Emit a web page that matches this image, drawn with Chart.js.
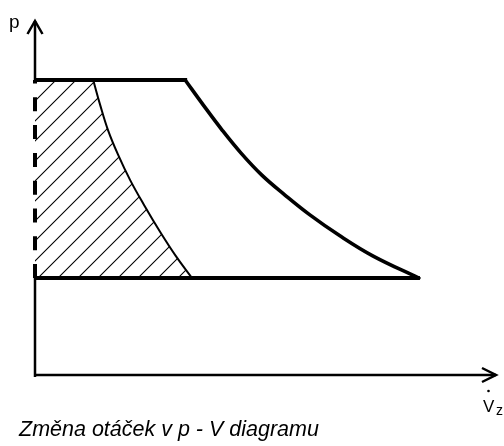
<!DOCTYPE html>
<html><head><meta charset="utf-8">
<script src="https://cdn.jsdelivr.net/npm/chart.js@4/dist/chart.umd.min.js"></script>
<style>html,body{margin:0;padding:0;background:#fff}#wrap{width:504px;height:446px;position:relative}</style>
</head><body><div id="wrap"><canvas id="c" width="504" height="446"></canvas></div>
<script>
// pressure levels (upper / lower) in arbitrary units
const pUpper = 83.1;
const pLower = 27.3;
// flow values on the horizontal lines
const upperLineV = [0, 32.5];
const lowerLineV = [0, 83.3];
// outer characteristic (full speed)
const outerV = [32.5, 36.4, 40.5, 44.6, 49.1, 54.1, 59.5, 66.0, 73.2, 83.1];
const outerP = [83.1, 76.1, 69.0, 62.5, 56.3, 50.7, 45.1, 39.2, 33.5, 27.3];
// inner characteristic (reduced speed) – hatched region to its left
const innerV = [12.6, 14.1, 15.8, 18.0, 20.6, 23.6, 27.1, 30.5, 34.0];
const innerP = [83.1, 76.1, 69.0, 62.0, 54.9, 47.9, 40.3, 33.5, 27.3];
// dashed limit line at zero flow
const dashV = [0, 0];
const dashP = [27.3, 83.1];
// texts
const yAxisLabel = 'p';
const xAxisLabel = 'V';
const xAxisSub = 'z';
const caption = 'Změna otáček v p - V diagramu';

const pts = (xs, ys) => xs.map((v, i) => ({x: v, y: ys[i]}));

const cv = document.getElementById('c');
const tile = document.createElement('canvas');
tile.width = 20; tile.height = 20;
const tc = tile.getContext('2d');
tc.strokeStyle = '#000'; tc.lineWidth = 1.1;
tc.beginPath();
tc.moveTo(-5, 21); tc.lineTo(21, -5);
tc.moveTo(15, 21); tc.lineTo(21, 15);
tc.moveTo(-5, 1); tc.lineTo(1, -5);
tc.stroke();
const hatch = cv.getContext('2d').createPattern(tile, 'repeat');

const decor = {
  id: 'decor',
  afterDatasetsDraw(chart) {
    const {ctx, scales: {x, y}} = chart;
    const x0 = x.getPixelForValue(0), y0 = y.getPixelForValue(0);
    const yUp = y.getPixelForValue(pUpper), yLo = y.getPixelForValue(pLower);
    const xEnd = x.right, yEnd = y.top;
    ctx.save();
    ctx.strokeStyle = '#000'; ctx.lineWidth = 2.5; ctx.lineCap = 'butt';
    ctx.beginPath();
    ctx.moveTo(x0, y0 + 2); ctx.lineTo(x0, yLo);
    ctx.moveTo(x0, yUp); ctx.lineTo(x0, yEnd + 1);
    ctx.moveTo(x0 - 1, y0); ctx.lineTo(xEnd - 1, y0);
    ctx.stroke();
    ctx.lineJoin = 'miter';
    ctx.beginPath();
    ctx.moveTo(x0 - 7.5, yEnd + 14); ctx.lineTo(x0, yEnd + 1); ctx.lineTo(x0 + 7.5, yEnd + 14);
    ctx.moveTo(xEnd - 15, y0 - 7); ctx.lineTo(xEnd - 1, y0); ctx.lineTo(xEnd - 15, y0 + 7);
    ctx.stroke();
    ctx.fillStyle = '#000';
    ctx.textBaseline = 'alphabetic';
    ctx.font = '19px "Liberation Sans", Arial, sans-serif';
    ctx.fillText(yAxisLabel, 9, 28);
    ctx.font = '17px "Liberation Sans", Arial, sans-serif';
    ctx.fillText(xAxisLabel, 483, 412);
    ctx.font = '14px "Liberation Sans", Arial, sans-serif';
    ctx.fillText(xAxisSub, 496, 415);
    ctx.beginPath(); ctx.arc(488.5, 391, 1.3, 0, Math.PI * 2); ctx.fill();
    ctx.font = 'italic 21.5px "Liberation Sans", Arial, sans-serif';
    ctx.fillText(caption, 19, 436);
    ctx.restore();
  }
};

new Chart(cv, {
  type: 'line',
  data: {
    datasets: [
      {data: pts(upperLineV, [pUpper, pUpper]), borderColor: '#000', borderWidth: 4, borderCapStyle: 'square', fill: false, order: 1},
      {data: pts(lowerLineV, [pLower, pLower]), borderColor: '#000', borderWidth: 4, borderCapStyle: 'butt', fill: false, order: 1},
      {data: pts(outerV, outerP), borderColor: '#000', borderWidth: 3.6, tension: 0.4, borderCapStyle: 'round', fill: false, order: 2},
      {data: pts(dashV, dashP), borderColor: '#000', borderWidth: 4, borderDash: [14, 13.8], borderCapStyle: 'butt', fill: false, order: 3, clip: false},
      {data: pts(innerV, innerP), borderColor: '#000', borderWidth: 2, tension: 0.4, fill: 'origin', backgroundColor: hatch, order: 4}
    ]
  },
  options: {
    indexAxis: 'y',
    responsive: false,
    animation: false,
    events: [],
    layout: {padding: {left: 35, right: 7, top: 20, bottom: 71}},
    elements: {point: {radius: 0}},
    plugins: {legend: {display: false}, tooltip: {enabled: false}, title: {display: false}},
    scales: {
      x: {type: 'linear', display: false, min: 0, max: 100},
      y: {type: 'linear', display: false, min: 0, max: 100}
    }
  },
  plugins: [decor]
});
</script></body></html>
